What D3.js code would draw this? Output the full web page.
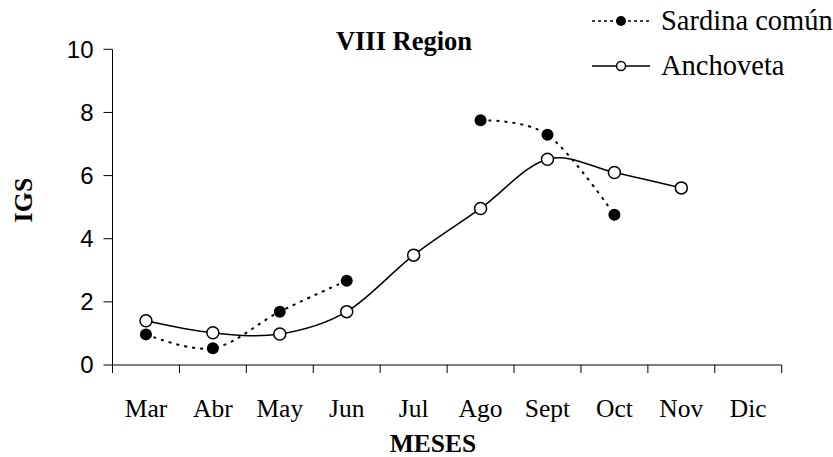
<!DOCTYPE html>
<html><head><meta charset="utf-8">
<script src="https://cdn.jsdelivr.net/npm/d3@7"></script>
<style>body{margin:0;background:#fff}</style>
</head><body>
<script>
const months = ["Mar","Abr","May","Jun","Jul","Ago","Sept","Oct","Nov","Dic"];
const sardina = [0.97, 0.53, 1.69, 2.67, null, 7.75, 7.29, 4.76, null, null];
const anchoveta = [1.40, 1.02, 0.98, 1.69, 3.48, 4.96, 6.52, 6.10, 5.61, null];
const yTicks = [0, 2, 4, 6, 8, 10];

const W = 833, H = 457;
const svg = d3.select("body").append("svg").attr("width", W).attr("height", H);
const x = d3.scaleBand().domain(months).range([112.5, 781.7]);
const y = d3.scaleLinear().domain([0, 10]).range([365, 49.3]);
const cx = m => x(m) + x.bandwidth() / 2;

// axes
const xAxis = svg.append("g").attr("transform", "translate(0,365)");
xAxis.append("line").attr("x1", x.range()[0]).attr("x2", x.range()[1]).attr("stroke", "#000");
const edges = months.map(m => x(m)).concat([x.range()[1]]);
xAxis.selectAll("line.t").data(edges).enter().append("line").attr("class", "t")
  .attr("x1", d => d).attr("x2", d => d).attr("y1", 0).attr("y2", 8).attr("stroke", "#000");
xAxis.selectAll("text").data(months).enter().append("text")
  .attr("x", d => cx(d)).attr("y", 52).attr("text-anchor", "middle")
  .style("font-family", "Liberation Serif, Times New Roman, serif").style("font-size", "25.5px").text(d => d);

const yAxis = svg.append("g").attr("transform", "translate(112.5,0)");
yAxis.append("line").attr("y1", y(0)).attr("y2", y(10)).attr("stroke", "#000");
yAxis.selectAll("line.t").data(yTicks).enter().append("line").attr("class", "t")
  .attr("x1", -9).attr("x2", 0).attr("y1", d => y(d)).attr("y2", d => y(d)).attr("stroke", "#000");
yAxis.selectAll("text").data(yTicks).enter().append("text")
  .attr("x", -19).attr("y", d => y(d)).attr("dy", "0.35em").attr("text-anchor", "end")
  .style("font-family", "Liberation Sans, Arial, sans-serif").style("font-size", "24px").text(d => d);

// titles
svg.append("text").attr("x", 404).attr("y", 50).attr("text-anchor", "middle")
  .style("font-family", "Liberation Serif, serif").style("font-weight", "bold").style("font-size", "26.5px").text("VIII Region");
svg.append("text").attr("x", 433).attr("y", 452).attr("text-anchor", "middle")
  .style("font-family", "Liberation Serif, serif").style("font-weight", "bold").style("font-size", "25.5px").text("MESES");
svg.append("text").attr("transform", "translate(32,200) rotate(-90)").attr("text-anchor", "middle")
  .style("font-family", "Liberation Serif, serif").style("font-weight", "bold").style("font-size", "26px").text("IGS");

// lines
const line = d3.line().defined(d => d.v != null).x(d => cx(d.m)).y(d => y(d.v)).curve(d3.curveCardinal.tension(0));
const sData = months.map((m, i) => ({m, v: sardina[i]}));
const aData = months.map((m, i) => ({m, v: anchoveta[i]}));
svg.append("path").attr("d", line(aData)).attr("fill", "none").attr("stroke", "#000").attr("stroke-width", 1.5);
svg.append("path").attr("d", line(sData)).attr("fill", "none").attr("stroke", "#000").attr("stroke-width", 2).attr("stroke-dasharray", "3,5");
svg.selectAll("circle.a").data(aData.filter(d => d.v != null)).enter().append("circle").attr("class", "a")
  .attr("cx", d => cx(d.m)).attr("cy", d => y(d.v)).attr("r", 6).attr("fill", "#fff").attr("stroke", "#000").attr("stroke-width", 1.5);
svg.selectAll("circle.s").data(sData.filter(d => d.v != null)).enter().append("circle").attr("class", "s")
  .attr("cx", d => cx(d.m)).attr("cy", d => y(d.v)).attr("r", 6).attr("fill", "#000");

// legend
const lg = svg.append("g");
lg.append("line").attr("x1", 592).attr("x2", 650).attr("y1", 21).attr("y2", 21).attr("stroke", "#000").attr("stroke-width", 1.5).attr("stroke-dasharray", "3,3");
lg.append("circle").attr("cx", 621).attr("cy", 21).attr("r", 5).attr("fill", "#000");
lg.append("line").attr("x1", 592).attr("x2", 650).attr("y1", 66).attr("y2", 66).attr("stroke", "#000").attr("stroke-width", 1.5);
lg.append("circle").attr("cx", 621).attr("cy", 66).attr("r", 4.5).attr("fill", "#fff").attr("stroke", "#000").attr("stroke-width", 1.5);
lg.append("text").attr("x", 661).attr("y", 30).style("font-family", "Liberation Serif, serif").style("font-size", "28.5px").text("Sardina común");
lg.append("text").attr("x", 661).attr("y", 75).style("font-family", "Liberation Serif, serif").style("font-size", "28.5px").text("Anchoveta");
</script>
</body></html>
